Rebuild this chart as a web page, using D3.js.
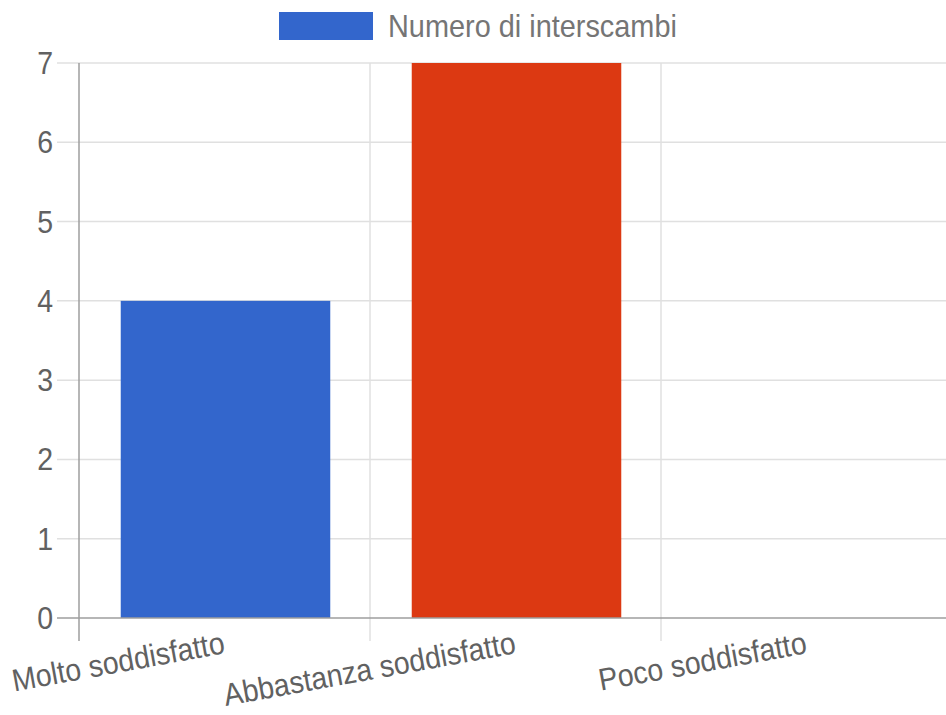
<!DOCTYPE html>
<html><head><meta charset="utf-8">
<script src="https://cdn.jsdelivr.net/npm/d3@7"></script>
<style>body{margin:0;background:#fff}svg{display:block}</style>
</head><body>
<svg id="chart" width="946" height="715"></svg>
<script>
const categories = ["Molto soddisfatto", "Abbastanza soddisfatto", "Poco soddisfatto"];
const values = [4, 7, 0];
const colors = ["#3366cc", "#dc3912", "#ff9900"];
const yTicks = [0, 1, 2, 3, 4, 5, 6, 7];
const seriesName = "Numero di interscambi";

const svg = d3.select("#chart");
const font = "'Liberation Sans', Arial, sans-serif";
const fs = 28.5, sy = 1.1;
const plotLeft = 79, plotRight = 952, plotTop = 63, plotBottom = 618;

const y = d3.scaleLinear().domain([0, 7]).range([plotBottom, plotTop]);
const xb = d3.scaleBand().domain(categories).range([plotLeft, plotRight]).padding(0);
const x = d3.scaleBand().domain(categories).range([plotLeft + 1, plotRight + 1]).paddingInner(0.28).paddingOuter(0.14);

// horizontal gridlines
svg.append("g").selectAll("line").data(yTicks.filter(d => d > 0)).join("line")
  .attr("x1", 57).attr("x2", 946)
  .attr("y1", d => y(d)).attr("y2", d => y(d))
  .attr("stroke", "#e0e0e0").attr("stroke-width", 1.5);

// vertical gridlines (category boundaries)
svg.append("g").selectAll("line").data(categories.slice(1)).join("line")
  .attr("x1", d => xb(d)).attr("x2", d => xb(d))
  .attr("y1", plotTop).attr("y2", 641)
  .attr("stroke", "#e0e0e0").attr("stroke-width", 1.5);

// bars
svg.append("g").selectAll("rect").data(categories).join("rect")
  .attr("x", d => x(d))
  .attr("width", x.bandwidth())
  .attr("y", (d, i) => y(values[i]))
  .attr("height", (d, i) => y(0) - y(values[i]))
  .attr("fill", (d, i) => colors[i]);

// baseline
svg.append("line").attr("x1", 57).attr("x2", 946).attr("y1", y(0)).attr("y2", y(0))
  .attr("stroke", "#9e9e9e").attr("stroke-width", 1.5);
// left axis
svg.append("line").attr("x1", plotLeft).attr("x2", plotLeft).attr("y1", plotTop).attr("y2", 641)
  .attr("stroke", "#9e9e9e").attr("stroke-width", 1.5);

// y labels
svg.append("g").selectAll("text").data(yTicks).join("text")
  .attr("transform", d => `translate(53,${y(d)}) scale(1,${sy})`)
  .attr("dy", "0.35em")
  .attr("text-anchor", "end")
  .attr("font-family", font).attr("font-size", fs).attr("fill", "#616161")
  .text(d => d);

// x labels
svg.append("g").selectAll("text").data(categories).join("text")
  .attr("text-anchor", "end")
  .attr("transform", d => `translate(${xb(d) + xb.bandwidth() / 2 + 1.5},${653}) rotate(-10.3) scale(1,${sy})`)
  .attr("font-family", font).attr("font-size", fs).attr("fill", "#616161")
  .text(d => d);

// legend
svg.append("rect").attr("x", 279).attr("y", 12).attr("width", 94).attr("height", 28).attr("fill", colors[0]);
svg.append("text").attr("transform", `translate(388,37) scale(1,${sy})`)
  .attr("font-family", font).attr("font-size", 28.9).attr("fill", "#757575")
  .text(seriesName);
</script>
</body></html>
